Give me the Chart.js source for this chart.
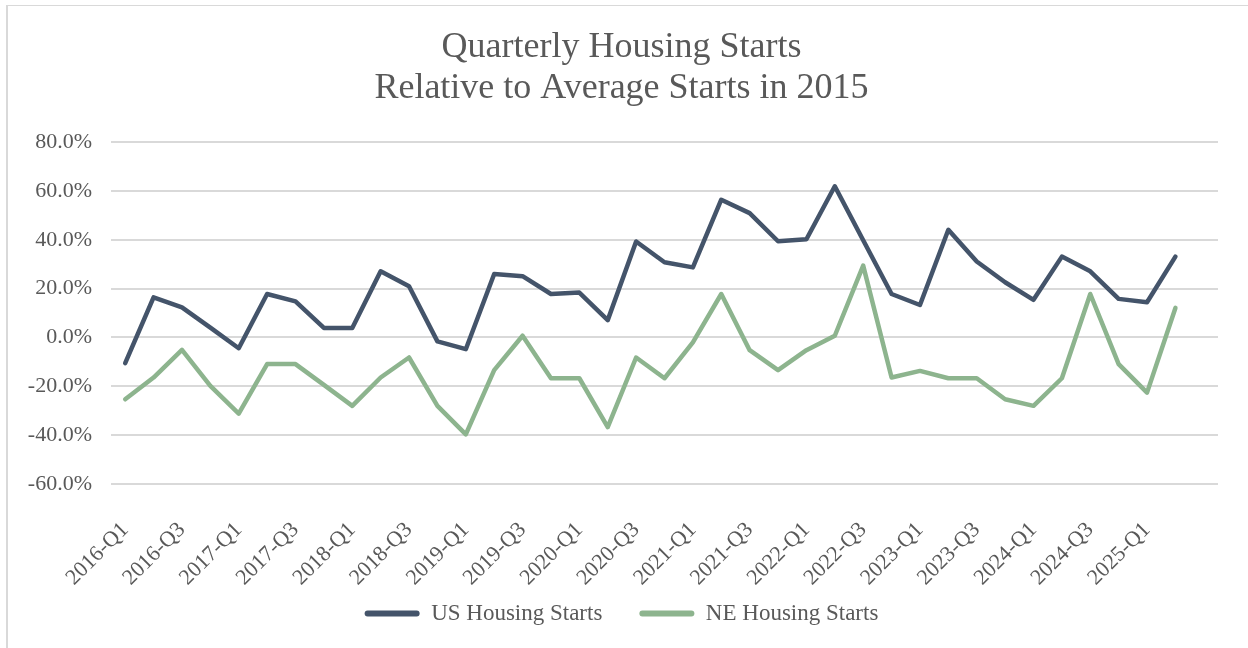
<!DOCTYPE html>
<html>
<head>
<meta charset="utf-8">
<script src="https://cdn.jsdelivr.net/npm/chart.js@4.4.1/dist/chart.umd.min.js"></script>
<style>
  html, body { margin: 0; padding: 0; background: #fff; overflow: hidden; }
  #wrap { position: relative; width: 1248px; height: 648px; }
  #frame {
    position: absolute; left: 6px; top: 5px; width: 1300px; height: 700px;
    border-top: 1px solid #d9d9d9; border-left: 2px solid #d9d9d9;
  }
  canvas { position: absolute; left: 0; top: 0; }
</style>
</head>
<body>
<div id="wrap">
  <div id="frame"></div>
  <canvas id="housingChart" width="1248" height="648"></canvas>
</div>
<script>
// quarters 2016-Q1 .. 2025-Q3 (last slot has no data yet)
const quarters = [
  '2016-Q1','2016-Q2','2016-Q3','2016-Q4',
  '2017-Q1','2017-Q2','2017-Q3','2017-Q4',
  '2018-Q1','2018-Q2','2018-Q3','2018-Q4',
  '2019-Q1','2019-Q2','2019-Q3','2019-Q4',
  '2020-Q1','2020-Q2','2020-Q3','2020-Q4',
  '2021-Q1','2021-Q2','2021-Q3','2021-Q4',
  '2022-Q1','2022-Q2','2022-Q3','2022-Q4',
  '2023-Q1','2023-Q2','2023-Q3','2023-Q4',
  '2024-Q1','2024-Q2','2024-Q3','2024-Q4',
  '2025-Q1','2025-Q2',''
];

// % change vs. 2015 average starts
const usStarts = [
  -10.5, 16.4, 12.3, 4.0,
  -4.4, 17.8, 14.8, 3.9,
  3.9, 27.1, 21.0, -1.6,
  -4.8, 26.0, 25.1, 17.8,
  18.4, 7.1, 39.3, 30.8,
  28.7, 56.4, 50.9, 39.4,
  40.2, 61.9, 39.8, 17.8,
  13.3, 44.1, 31.1, 22.6,
  15.4, 33.1, 27.1, 15.8,
  14.4, 33.1, null
];

const neStarts = [
  -25.3, -16.4, -5.1, -19.8,
  -31.2, -10.9, -10.9, -19.4,
  -28.0, -16.4, -8.2, -28.0,
  -39.7, -13.4, 0.7, -16.7,
  -16.7, -36.7, -8.2, -16.7,
  -2.0, 17.8, -5.2, -13.4,
  -5.2, 0.7, 29.4, -16.4,
  -13.7, -16.7, -16.7, -25.3,
  -28.0, -16.7, 17.8, -10.9,
  -22.6, 12.1, null
];

const titleLines = ['Quarterly Housing Starts', 'Relative to Average Starts in 2015'];

const serif = "'Liberation Serif', 'DejaVu Serif', serif";
const textColor = '#595959';
const gridColor = '#d9d9d9';

const ctx = document.getElementById('housingChart').getContext('2d');
new Chart(ctx, {
  type: 'line',
  data: {
    labels: quarters,
    datasets: [
      {
        label: 'US Housing Starts',
        data: usStarts,
        borderColor: '#44546a',
        backgroundColor: '#44546a',
        borderWidth: 4.5,
        pointRadius: 0,
        tension: 0,
        borderJoinStyle: 'round',
        borderCapStyle: 'round'
      },
      {
        label: 'NE Housing Starts',
        data: neStarts,
        borderColor: '#8db48e',
        backgroundColor: '#8db48e',
        borderWidth: 4.5,
        pointRadius: 0,
        tension: 0,
        borderJoinStyle: 'round',
        borderCapStyle: 'round'
      }
    ]
  },
  options: {
    responsive: false,
    animation: false,
    layout: {
      padding: { left: 25, right: 30, top: 0, bottom: 13 }
    },
    plugins: {
      title: {
        display: true,
        text: titleLines,
        color: textColor,
        font: { family: serif, size: 36, weight: 'normal', lineHeight: 1.14 },
        padding: { top: 27, bottom: 33 }
      },
      legend: {
        position: 'bottom',
        labels: {
          color: textColor,
          font: { family: serif, size: 23 },
          boxWidth: 55,
          boxHeight: 6,
          padding: 14,
          useBorderRadius: true,
          borderRadius: 3,
          // wider gap between the two entries, like the original
          generateLabels: function(chart) {
            const items = Chart.defaults.plugins.legend.labels.generateLabels(chart);
            items.forEach((item, i) => {
              item.lineWidth = 0;
              if (i < items.length - 1) item.text += '\u2003';
            });
            return items;
          }
        }
      },
      tooltip: { enabled: false }
    },
    scales: {
      x: {
        offset: true,
        grid: { display: false, drawTicks: false },
        border: { display: false },
        ticks: {
          color: textColor,
          font: { family: serif, size: 22 },
          autoSkip: false,
          minRotation: 45,
          maxRotation: 45,
          padding: 33,
          callback: function(value, index) {
            return index % 2 === 0 ? this.getLabelForValue(value) : '';
          }
        },
        afterFit: function(scale) {
          scale.height = 104;
          scale.paddingLeft = 0;
          scale.paddingRight = 0;
        }
      },
      y: {
        min: -60,
        max: 80,
        grid: { color: gridColor, lineWidth: 2, drawTicks: false },
        border: { display: false },
        ticks: {
          stepSize: 20,
          color: textColor,
          font: { family: serif, size: 22 },
          padding: 19,
          callback: value => value.toFixed(1) + '%'
        },
        afterFit: function(scale) { scale.width = 86; }
      }
    }
  }
});
</script>
</body>
</html>
